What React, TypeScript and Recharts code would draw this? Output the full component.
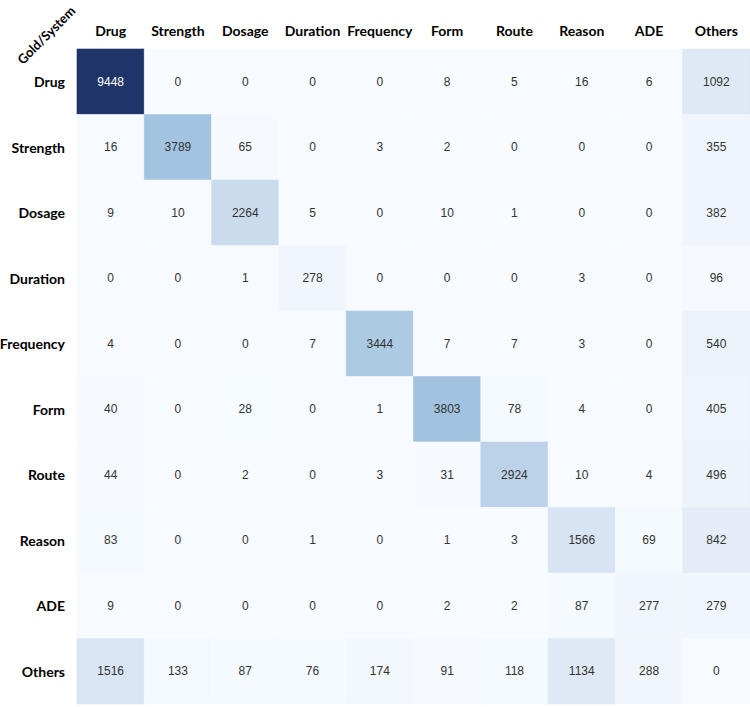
import React from 'react';
import { ScatterChart, Scatter, XAxis, YAxis, ReferenceArea } from 'recharts';

const columns = ['Drug', 'Strength', 'Dosage', 'Duration', 'Frequency', 'Form', 'Route', 'Reason', 'ADE', 'Others'];
const rowLabels = ['Drug', 'Strength', 'Dosage', 'Duration', 'Frequency', 'Form', 'Route', 'Reason', 'ADE', 'Others'];

const drugRow = [9448, 0, 0, 0, 0, 8, 5, 16, 6, 1092];
const strengthRow = [16, 3789, 65, 0, 3, 2, 0, 0, 0, 355];
const dosageRow = [9, 10, 2264, 5, 0, 10, 1, 0, 0, 382];
const durationRow = [0, 0, 1, 278, 0, 0, 0, 3, 0, 96];
const frequencyRow = [4, 0, 0, 7, 3444, 7, 7, 3, 0, 540];
const formRow = [40, 0, 28, 0, 1, 3803, 78, 4, 0, 405];
const routeRow = [44, 0, 2, 0, 3, 31, 2924, 10, 4, 496];
const reasonRow = [83, 0, 0, 1, 0, 1, 3, 1566, 69, 842];
const adeRow = [9, 0, 0, 0, 0, 2, 2, 87, 277, 279];
const othersRow = [1516, 133, 87, 76, 174, 91, 118, 1134, 288, 0];

const matrix = [drugRow, strengthRow, dosageRow, durationRow, frequencyRow, formRow, routeRow, reasonRow, adeRow, othersRow];
const maxValue = 9448;

const colorStops: [number, number[]][] = [
  [0, [247, 251, 255]],
  [0.1, [226, 235, 246]],
  [0.16, [216, 229, 243]],
  [0.24, [203, 219, 238]],
  [0.31, [188, 210, 232]],
  [0.4, [163, 196, 224]],
  [0.7, [90, 130, 180]],
  [1, [31, 52, 104]],
];

function colorFor(v: number): string {
  const t = Math.max(0, Math.min(1, v / maxValue));
  for (let i = 1; i < colorStops.length; i++) {
    const [t1, c1] = colorStops[i];
    const [t0, c0] = colorStops[i - 1];
    if (t <= t1) {
      const f = (t - t0) / (t1 - t0);
      const c = c0.map((a, k) => Math.round(a + (c1[k] - a) * f));
      return `rgb(${c[0]},${c[1]},${c[2]})`;
    }
  }
  return 'rgb(31,52,104)';
}

const cells = rowLabels.flatMap((r, ri) =>
  columns.map((c, ci) => ({ x: ci + 0.5, y: ri + 0.5, value: matrix[ri][ci], row: r, col: c }))
);

const tickPositions = columns.map((_, i) => i + 0.5);

const headerFont = 'Lato, "Open Sans", sans-serif';

const XTick = (props: any) => {
  const { x, payload } = props;
  return (
    <text x={x} y={30} textAnchor="middle" dominantBaseline="central" fontFamily={headerFont} fontWeight={700} fontSize={14} fill="#000">
      {columns[Math.floor(payload.value)]}
    </text>
  );
};

const YTick = (props: any) => {
  const { y, payload } = props;
  return (
    <text x={65} y={y} textAnchor="end" dominantBaseline="central" fontFamily={headerFont} fontWeight={700} fontSize={14} fill="#000">
      {rowLabels[Math.floor(payload.value)]}
    </text>
  );
};

const CellText = (props: any) => {
  const { cx, cy, payload } = props;
  const t = payload.value / maxValue;
  return (
    <text x={cx} y={cy} textAnchor="middle" dominantBaseline="central" fontFamily='"Liberation Sans", Arial, sans-serif' fontSize={12} fill={t > 0.6 ? '#ffffff' : '#333333'}>
      {payload.value}
    </text>
  );
};

export default function App() {
  return (
    <div style={{ position: 'absolute', left: 0, top: 0, width: 750, height: 707, background: '#fff' }}>
      <ScatterChart width={750} height={707} margin={{ top: 0, right: 0, bottom: 3, left: 0 }}>
        <XAxis
          type="number"
          dataKey="x"
          domain={[0, 10]}
          ticks={tickPositions}
          orientation="top"
          height={49}
          axisLine={false}
          tickLine={false}
          tick={<XTick />}
          interval={0}
        />
        <YAxis
          type="number"
          dataKey="y"
          domain={[0, 10]}
          ticks={tickPositions}
          reversed
          width={77}
          axisLine={false}
          tickLine={false}
          tick={<YTick />}
          interval={0}
        />
        {cells.map((c, i) => (
          <ReferenceArea
            key={i}
            x1={c.x - 0.5}
            x2={c.x + 0.5}
            y1={c.y - 0.5}
            y2={c.y + 0.5}
            fill={colorFor(c.value)}
            fillOpacity={1}
            stroke={colorFor(c.value)}
            strokeWidth={0.6}
            ifOverflow="visible"
          />
        ))}
        <Scatter data={cells} isAnimationActive={false} shape={<CellText />} />
      </ScatterChart>
      <div
        style={{
          position: 'absolute',
          left: 46,
          top: 35,
          transform: 'translate(-50%, -50%) rotate(-45deg)',
          fontFamily: headerFont,
          fontWeight: 700,
          fontSize: 13,
          lineHeight: '16px',
          whiteSpace: 'nowrap',
          color: '#000',
        }}
      >
        Gold/System
      </div>
    </div>
  );
}
